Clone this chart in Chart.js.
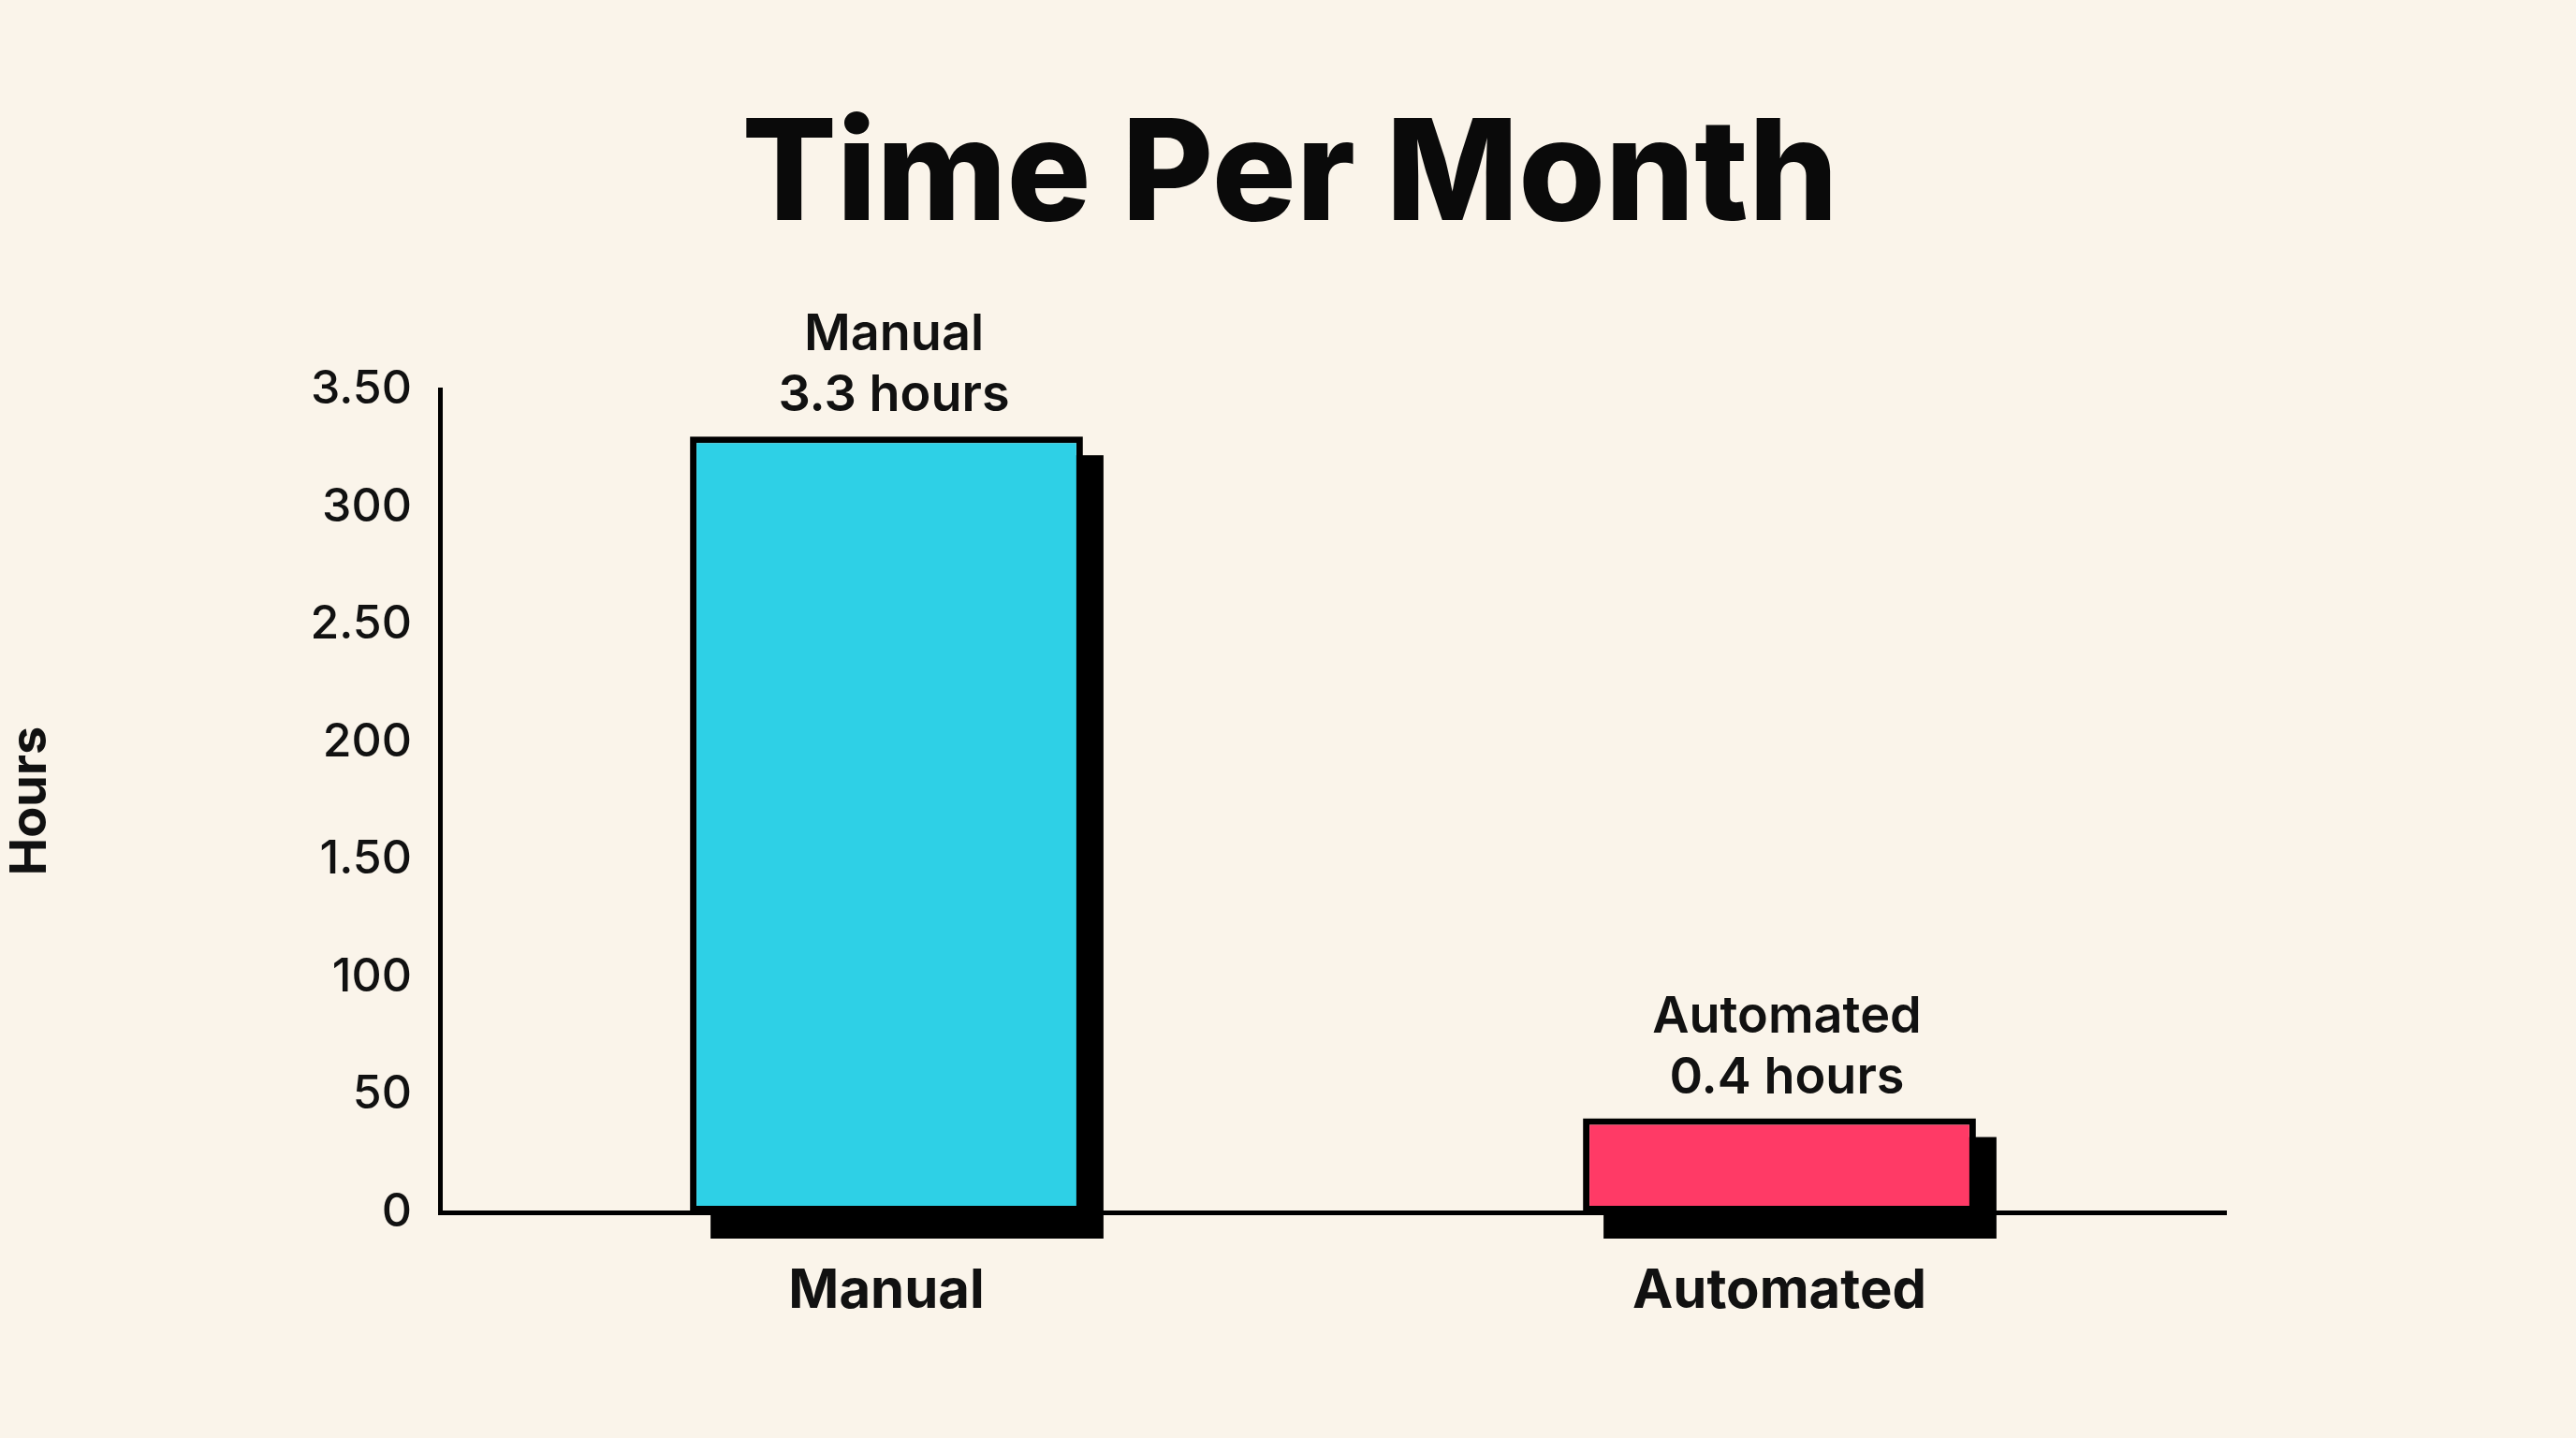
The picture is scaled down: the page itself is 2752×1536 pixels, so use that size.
<!DOCTYPE html>
<html>
<head>
<meta charset="utf-8">
<script src="https://cdn.jsdelivr.net/npm/chart.js@4/dist/chart.umd.min.js"></script>
<style>
  html, body { margin: 0; padding: 0; background: #faf4ea; }
  #wrap { width: 2752px; height: 1536px; }
</style>
</head>
<body>
<div id="wrap"><canvas id="chart"></canvas></div>
<script>
// Data
const categories = ["Manual", "Automated"];
const hours = [3.3, 0.4];
const barLabels = [["Manual", "3.3 hours"], ["Automated", "0.4 hours"]];
const barColors = ["#2ed0e6", "#ff3a66"];
const tickLabels = ["0", "50", "100", "1.50", "200", "2.50", "300", "3.50"];

const font = "Inter, 'Noto Sans', sans-serif";

// black drop shadow behind bars + labels on top
const barExtras = {
    id: "barExtras",
    beforeDatasetsDraw(chart) {
        const c = chart.ctx;
        chart.getDatasetMeta(0).data.forEach(b => {
            const w = b.width;
            c.fillStyle = "#000";
            c.fillRect(b.x - w / 2 + 22, b.y + 20, w, b.base - b.y + 8);
        });
    },
    afterDatasetsDraw(chart) {
        const c = chart.ctx;
        c.save();
        c.fillStyle = "#111";
        c.textAlign = "center";
        c.font = "600 54px " + font;
        chart.getDatasetMeta(0).data.forEach((b, i) => {
            c.fillText(barLabels[i][0], b.x + 8, b.y - 92);
            c.fillText(barLabels[i][1], b.x + 8, b.y - 27);
        });
        // title
        c.font = "800 150px " + font;
        c.fillStyle = "#0a0a0a";
        c.fillText("Time Per Month", 1378, 235);
        c.restore();
    }
};

new Chart(document.getElementById("chart"), {
    type: "bar",
    data: {
        labels: categories,
        datasets: [{
            data: hours,
            backgroundColor: barColors,
            borderColor: "#000",
            borderWidth: 7,
            borderSkipped: false,
            barPercentage: 0.44,
            categoryPercentage: 1
        }]
    },
    options: {
        responsive: true,
        maintainAspectRatio: false,
        animation: false,
        layout: { padding: { top: 416, right: 374, left: 0, bottom: 0 } },
        plugins: { legend: { display: false }, tooltip: { enabled: false } },
        scales: {
            x: {
                grid: { display: false, drawTicks: false },
                border: { color: "#000", width: 5 },
                ticks: { color: "#111", padding: 50, font: { family: font, size: 58, weight: "700" } },
                afterFit(s) { s.height = 241; }
            },
            y: {
                min: 0, max: 3.5,
                grid: { display: false, drawTicks: false },
                border: { color: "#000", width: 5 },
                ticks: {
                    stepSize: 0.5,
                    color: "#111",
                    padding: 30,
                    font: { family: font, size: 50, weight: "500" },
                    callback: (v, i) => tickLabels[i]
                },
                title: {
                    display: true, text: "Hours", color: "#111",
                    padding: { top: 0, bottom: 0 },
                    font: { family: font, size: 54, weight: "700" }
                },
                afterFit(s) { s.width = 470; }
            }
        }
    },
    plugins: [barExtras]
});
</script>
</body>
</html>
